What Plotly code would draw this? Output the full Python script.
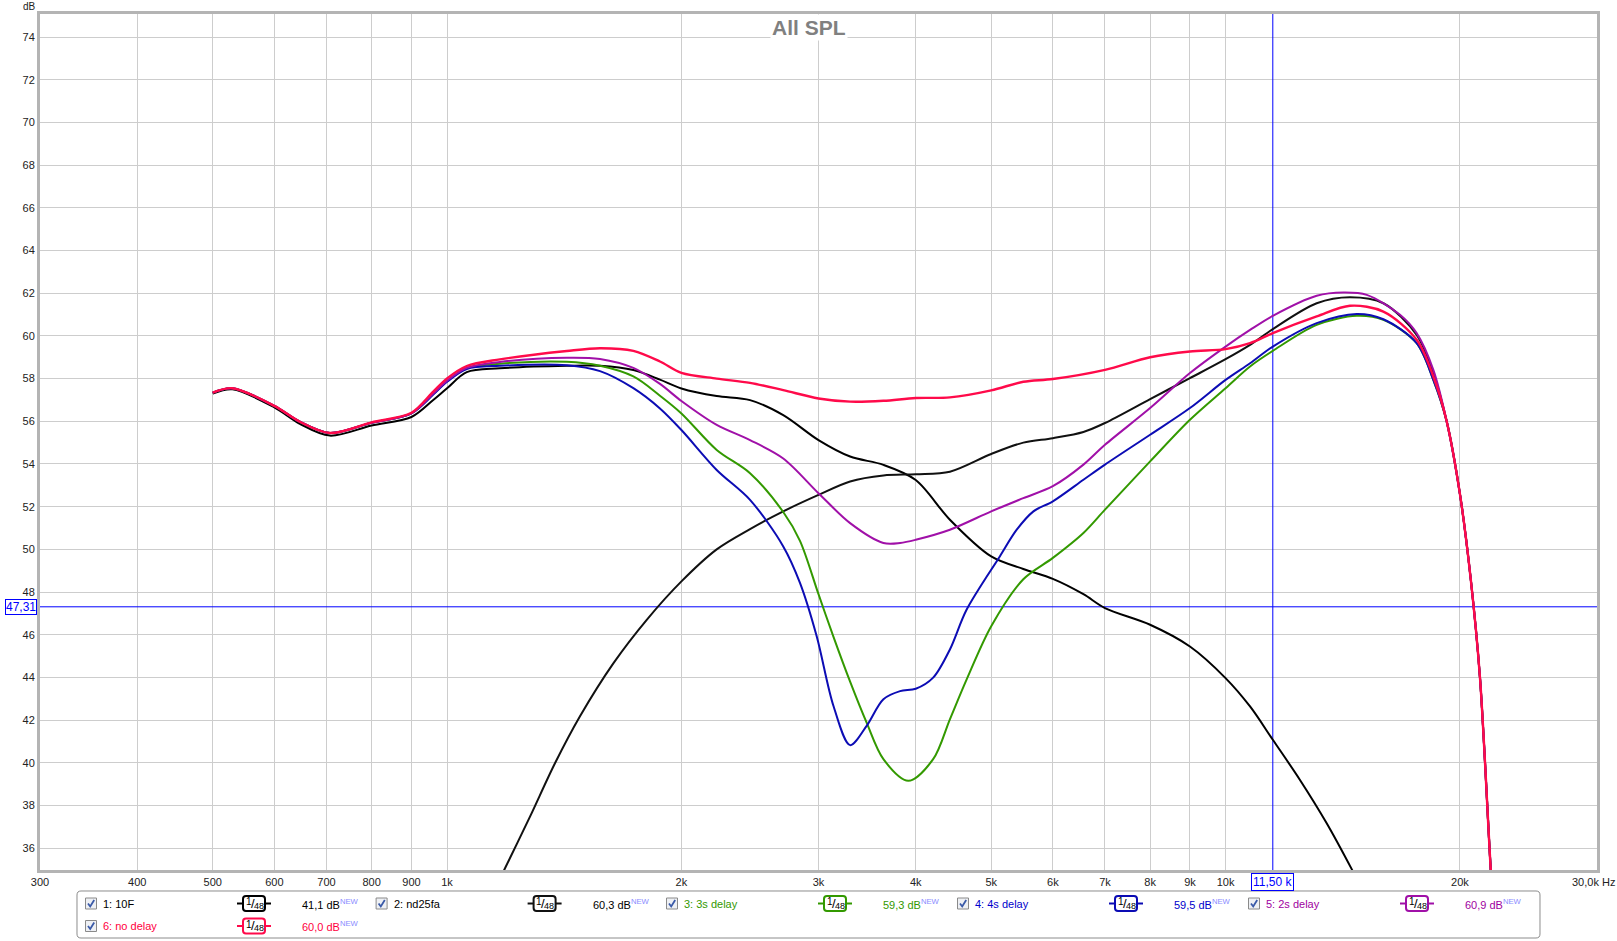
import math
import plotly.graph_objects as go

# ---------------- data ----------------
freq_10f = [500, 530, 600, 647, 707, 800, 900, 960, 1000, 1060, 1169, 1425, 1572, 1735, 1877, 2000, 2220, 2450,
            2703, 3000, 3294, 3635, 4000, 4425, 5000, 5498, 6000, 6568, 7000, 8000, 9000, 10000, 10751, 11500,
            12462, 13487, 14523, 15500]
db_10f = [57.30, 57.50, 56.65, 55.88, 55.33, 55.80, 56.20, 57.00, 57.55, 58.30, 58.48, 58.60, 58.60, 58.40, 57.95,
          57.54, 57.18, 56.99, 56.29, 55.12, 54.35, 53.96, 53.25, 51.39, 49.67, 49.08, 48.62, 47.90, 47.25, 46.47,
          45.45, 43.97, 42.64, 41.08, 39.20, 37.17, 35.02, 33.00]

freq_nd25fa = [1100, 1187, 1278, 1376, 1481, 1636, 1805, 2000, 2220, 2450, 2703, 3000, 3294, 3635, 4000, 4425, 5000,
               5498, 6000, 6568, 7000, 8000, 9000, 10000, 10751, 11500, 13094, 14449, 15948, 17598, 18487, 19231,
               20000, 20652, 21222, 21909, 22400]
db_nd25fa = [32.60, 35.06, 37.48, 39.98, 42.17, 44.67, 46.70, 48.50, 50.00, 50.95, 51.78, 52.55, 53.18, 53.46, 53.52,
             53.64, 54.47, 55.00, 55.21, 55.50, 55.92, 57.04, 58.02, 58.91, 59.58, 60.32, 61.53, 61.81, 61.53, 60.05,
             58.26, 56.00, 52.60, 48.60, 44.00, 35.00, 29.50]

freq_3s = [500, 530, 600, 647, 707, 800, 900, 960, 1000, 1060, 1169, 1425, 1572, 1735, 1877, 2000, 2220, 2450, 2703,
           2840, 3000, 3136, 3294, 3459, 3635, 3913, 4211, 4425, 4650, 5000, 5498, 6000, 6568, 7000, 8000, 9000,
           10000, 10751, 11500, 13094, 14740, 15948, 17598, 18487, 19231, 20000, 20652, 21222, 21909, 22400]
db_3s = [57.34, 57.55, 56.72, 55.98, 55.45, 55.93, 56.37, 57.28, 57.88, 58.50, 58.70, 58.79, 58.60, 58.10, 57.20,
         56.37, 54.66, 53.57, 51.75, 50.40, 47.90, 45.90, 43.80, 41.88, 40.17, 39.16, 40.17, 42.04, 43.91, 46.40,
         48.60, 49.60, 50.77, 51.86, 54.12, 56.07, 57.55, 58.57, 59.30, 60.52, 60.94, 60.75, 59.66, 57.94, 56.00,
         52.60, 48.60, 44.00, 35.00, 29.50]

freq_4s = [500, 530, 600, 647, 707, 800, 900, 960, 1000, 1060, 1169, 1425, 1572, 1735, 1877, 2000, 2220, 2450, 2703,
           2840, 2984, 3136, 3294, 3459, 3635, 3819, 4000, 4211, 4425, 4650, 5131, 5392, 5665, 6000, 6568, 7000,
           8000, 9000, 10000, 10751, 11500, 13094, 14740, 15948, 17598, 18487, 19231, 20000, 20652, 21222, 21909,
           22400]
db_4s = [57.34, 57.55, 56.72, 55.98, 55.45, 55.93, 56.37, 57.25, 57.85, 58.45, 58.60, 58.63, 58.35, 57.55, 56.60,
         55.59, 53.72, 52.32, 50.14, 48.43, 45.93, 42.66, 40.83, 41.73, 42.98, 43.36, 43.47, 43.99, 45.31, 47.18,
         49.68, 50.92, 51.78, 52.25, 53.26, 53.97, 55.37, 56.62, 57.94, 58.72, 59.50, 60.60, 61.03, 60.78, 59.66,
         57.94, 56.00, 52.60, 48.60, 44.00, 35.00, 29.50]

freq_2s = [500, 530, 600, 647, 707, 800, 900, 960, 1000, 1060, 1169, 1425, 1572, 1735, 1877, 2000, 2220, 2450, 2703,
           3000, 3294, 3635, 3819, 4000, 4425, 5000, 5498, 6000, 6568, 7000, 8000, 9000, 10000, 10751, 11500, 13094,
           14170, 15183, 16752, 17598, 18487, 19231, 20000, 20652, 21222, 21909, 22400]
db_2s = [57.34, 57.55, 56.72, 55.98, 55.45, 55.93, 56.37, 57.30, 57.90, 58.50, 58.78, 58.98, 58.92, 58.50, 57.75,
         56.95, 55.83, 55.12, 54.26, 52.63, 51.23, 50.30, 50.30, 50.45, 50.92, 51.78, 52.40, 52.96, 53.97, 54.90,
         56.62, 58.26, 59.50, 60.28, 60.94, 61.88, 62.03, 61.92, 60.99, 60.13, 58.41, 56.00, 52.60, 48.60, 44.00,
         35.00, 29.50]

freq_0s = [500, 530, 600, 647, 707, 800, 900, 960, 1000, 1060, 1169, 1425, 1572, 1735, 1877, 2000, 2220, 2450, 2703,
           3000, 3294, 3635, 4000, 4425, 5000, 5498, 6000, 7000, 8000, 9000, 10000, 10751, 11500, 13094, 14449,
           15948, 17598, 18487, 19231, 20000, 20652, 21222, 21909, 22400]
db_0s = [57.34, 57.55, 56.72, 55.98, 55.45, 55.95, 56.40, 57.39, 58.01, 58.59, 58.90, 59.29, 59.42, 59.30, 58.80,
         58.27, 58.00, 57.80, 57.46, 57.07, 56.92, 56.96, 57.09, 57.12, 57.45, 57.85, 57.98, 58.41, 59.00, 59.27,
         59.38, 59.66, 60.13, 60.91, 61.41, 61.14, 59.82, 58.10, 56.00, 52.60, 48.60, 44.00, 35.00, 29.50]

series_names = ["1: 10F", "2: nd25fa", "3: 3s delay", "4: 4s delay", "5: 2s delay", "6: no delay"]
cursor_values = ["41,1", "60,3", "59,3", "59,5", "60,9", "60,0"]
cursor_freq = 11500
cursor_db = 47.31

x_tickvals = [300, 400, 500, 600, 700, 800, 900, 1000, 2000, 3000, 4000, 5000, 6000, 7000, 8000, 9000, 10000,
              20000]
x_ticktext = ["300", "400", "500", "600", "700", "800", "900", "1k", "2k", "3k", "4k", "5k", "6k", "7k", "8k",
              "9k", "10k", "20k"]
x_end_label = "30,0k Hz"
y_tickvals = list(range(36, 75, 2))

# ---------------- styling ----------------
colors = ["#000000", "#111111", "#339900", "#0c0cb4", "#a010a8", "#ff0a4a"]
widths = [2, 2, 2, 2, 2, 2.4]

W, H = 1617, 941
L, R, T, B = 40, 1597, 14, 870
Y_MIN, Y_MAX = 34.98, 75.08
FONT = "Liberation Sans, Arial, sans-serif"


def px(X):
    return (X - L) / (R - L)


def py(Y):
    return (B - Y) / (B - T)


fig = go.Figure()

# cursor lines
fig.add_trace(go.Scatter(x=[cursor_freq, cursor_freq], y=[Y_MIN, Y_MAX], mode="lines",
                         line=dict(color="#0000ff", width=1), hoverinfo="skip"))
fig.add_trace(go.Scatter(x=[300, 30000], y=[cursor_db, cursor_db], mode="lines",
                         line=dict(color="#0000ff", width=1), hoverinfo="skip"))

series = [(freq_10f, db_10f), (freq_nd25fa, db_nd25fa), (freq_3s, db_3s), (freq_4s, db_4s),
          (freq_2s, db_2s), (freq_0s, db_0s)]
for (f, d), c, w, n in zip(series, colors, widths, series_names):
    fig.add_trace(go.Scatter(x=f, y=d, mode="lines", name=n,
                             line=dict(color=c, width=w, shape="spline", smoothing=0.9)))

axis_common = dict(showgrid=True, gridcolor="#cdcdcd", gridwidth=1.3, showline=True, mirror=True,
                   linecolor="#b4b4b4", linewidth=3, ticks="", zeroline=False,
                   tickfont=dict(family=FONT, size=11, color="#222222"))

fig.update_layout(
    width=W, height=H, autosize=False,
    margin=dict(l=L, r=W - R, t=T, b=H - B, pad=0),
    paper_bgcolor="white", plot_bgcolor="white", showlegend=False,
    font=dict(family=FONT, size=11, color="#222222"),
    xaxis=dict(type="log", range=[math.log10(300), math.log10(30000)], tickmode="array",
               tickvals=x_tickvals, ticktext=x_ticktext, **axis_common),
    yaxis=dict(range=[Y_MIN, Y_MAX], tickmode="array", tickvals=y_tickvals,
               ticktext=[str(v) for v in y_tickvals], **axis_common),
)

annotations = []
shapes = []

# title
annotations.append(dict(text="<b>All SPL</b>", x=px(808.5), y=py(27), xref="paper", yref="paper",
                        showarrow=False, font=dict(family=FONT, size=21, color="#808080"),
                        bgcolor="white", xanchor="center", yanchor="middle"))
# dB unit label
annotations.append(dict(text="dB", x=px(29), y=py(6), xref="paper", yref="paper", showarrow=False,
                        font=dict(family=FONT, size=10, color="#222222"), xanchor="center", yanchor="middle"))
# right end of the frequency axis
annotations.append(dict(text=x_end_label, x=px(1593.5), y=py(881.7), xref="paper", yref="paper",
                        showarrow=False, font=dict(family=FONT, size=11, color="#222222"),
                        xanchor="center", yanchor="middle"))
# cursor readouts
annotations.append(dict(text="11,50 k", x=math.log10(cursor_freq), y=py(881.5), xref="x", yref="paper",
                        showarrow=False, font=dict(family=FONT, size=12, color="#0000ff"),
                        bordercolor="#0000ff", borderwidth=1, borderpad=1, bgcolor="white",
                        xanchor="center", yanchor="middle"))
annotations.append(dict(text="47,31", x=px(21), y=cursor_db, xref="paper", yref="y",
                        showarrow=False, font=dict(family=FONT, size=12, color="#0000ff"),
                        bordercolor="#0000ff", borderwidth=1, borderpad=0, bgcolor="white",
                        xanchor="center", yanchor="middle"))


def path_from(points, close=False):
    s = "M " + " L ".join(f"{px(X):.5f},{py(Y):.5f}" for X, Y in points)
    return s + (" Z" if close else "")


def rounded_rect(x0, y0, x1, y1, r):
    s = f"M {px(x0 + r):.5f},{py(y0):.5f} L {px(x1 - r):.5f},{py(y0):.5f} "
    s += f"Q {px(x1):.5f},{py(y0):.5f} {px(x1):.5f},{py(y0 + r):.5f} "
    s += f"L {px(x1):.5f},{py(y1 - r):.5f} Q {px(x1):.5f},{py(y1):.5f} {px(x1 - r):.5f},{py(y1):.5f} "
    s += f"L {px(x0 + r):.5f},{py(y1):.5f} Q {px(x0):.5f},{py(y1):.5f} {px(x0):.5f},{py(y1 - r):.5f} "
    s += f"L {px(x0):.5f},{py(y0 + r):.5f} Q {px(x0):.5f},{py(y0):.5f} {px(x0 + r):.5f},{py(y0):.5f} Z"
    return s


def label(text, X, Y, size, color, anchor="center"):
    annotations.append(dict(text=text, x=px(X), y=py(Y), xref="paper", yref="paper", showarrow=False,
                            font=dict(family=FONT, size=size, color=color), xanchor=anchor,
                            yanchor="middle"))


# legend frame
shapes.append(dict(type="path", path=rounded_rect(77, 891, 1540, 938, 4), xref="paper", yref="paper",
                   line=dict(color="#8c8c8c", width=1), fillcolor="rgba(0,0,0,0)", layer="above"))

col_x = [91, 381.6, 672, 963, 1254]
row_y = [903.5, 926]
text_colors = ["#000000", "#000000", "#339900", "#0000cc", "#a000a0", "#ff0040"]
positions = [(0, 0), (1, 0), (2, 0), (3, 0), (4, 0), (0, 1)]

for i, (ci, ri) in enumerate(positions):
    cx = col_x[ci]
    cy = row_y[ri]
    # checkbox
    shapes.append(dict(type="rect", x0=px(cx - 5.5), x1=px(cx + 5.5), y0=py(cy - 5.5), y1=py(cy + 5.5),
                       xref="paper", yref="paper", line=dict(color="#8a8a8a", width=1), fillcolor="#eef0f4",
                       layer="above"))
    shapes.append(dict(type="path", path=path_from([(cx - 3, cy), (cx - 0.8, cy + 3), (cx + 3.2, cy - 3.5)]),
                       xref="paper", yref="paper", line=dict(color="#3a5aa8", width=1.8), layer="above"))
    # name
    label(series_names[i], cx + 10, cy, 11, text_colors[i], "left")
    # smoothing badge "1/48"
    bx = cx + 163
    shapes.append(dict(type="path", path=rounded_rect(bx - 11, cy - 7.5, bx + 11, cy + 7.5, 3), xref="paper",
                       yref="paper", line=dict(color=colors[i], width=2),
                       fillcolor="white", layer="above"))
    shapes.append(dict(type="path", path=path_from([(bx - 17, cy), (bx - 11, cy)]), xref="paper", yref="paper",
                       line=dict(color=colors[i], width=2), layer="above"))
    shapes.append(dict(type="path", path=path_from([(bx + 11, cy), (bx + 17, cy)]), xref="paper", yref="paper",
                       line=dict(color=colors[i], width=2), layer="above"))
    label("1", bx - 5.5, cy - 2, 10, "#000000")
    label("/", bx - 1.5, cy, 13, "#000000")
    label("48", bx + 4.5, cy + 2.2, 9, "#000000")
    # value
    label(f'{cursor_values[i]} dB<sup><span style="color:#8a8aff">NEW</span></sup>', cx + 209, cy, 11,
          text_colors[i], "left")

fig.update_layout(annotations=annotations, shapes=shapes)

fig.write_html("out.html", config={"displayModeBar": False},
               post_script="document.body.style.margin='0px';document.body.style.overflow='hidden';")
